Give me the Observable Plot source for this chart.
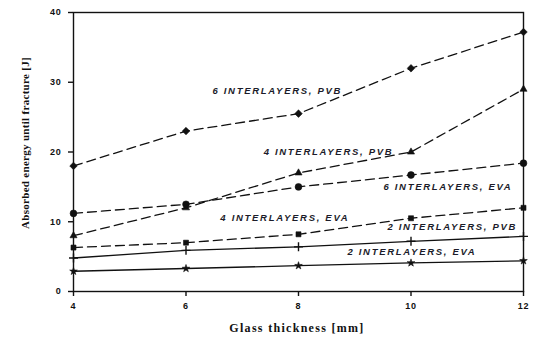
<!DOCTYPE html>
<html>
<head>
<meta charset="utf-8">
<script src="https://cdn.jsdelivr.net/npm/d3@7"></script>
<script src="https://cdn.jsdelivr.net/npm/@observablehq/plot@0.6"></script>
<style>
  html, body { margin: 0; padding: 0; background: #fff; }
  #chart svg { display: block; }
  .ticks text { font-family: "Liberation Sans", Arial, sans-serif; font-weight: bold; font-size: 9px; letter-spacing: 0.8px; }
  .axis-title { font-family: "Liberation Serif", "Times New Roman", serif; font-weight: bold; font-size: 11px; }
  .series-label { font-family: "Liberation Sans", Arial, sans-serif; font-weight: bold; font-style: italic; font-size: 9.5px; letter-spacing: 1.7px; }
</style>
</head>
<body>
<div id="chart"></div>
<script>
// Glass thickness (mm) on the x axis
const thickness = [4, 6, 8, 10, 12];

// Absorbed energy until fracture (J) for each laminate build-up
const pvb6 = [18, 23, 25.5, 32, 37.2];
const pvb4 = [8, 12, 17, 20, 29];
const eva6 = [11.2, 12.5, 15, 16.7, 18.4];
const eva4 = [6.3, 7, 8.2, 10.5, 12];
const pvb2 = [4.8, 5.9, 6.4, 7.2, 7.9];
const eva2 = [2.9, 3.3, 3.7, 4.1, 4.4];

const seriesNames = [
  "6 INTERLAYERS, PVB",
  "4 INTERLAYERS, PVB",
  "6 INTERLAYERS, EVA",
  "4 INTERLAYERS, EVA",
  "2 INTERLAYERS, PVB",
  "2 INTERLAYERS, EVA"
];
const seriesValues = [pvb6, pvb4, eva6, eva4, pvb2, eva2];
const seriesSymbols = ["diamond2", "triangle2", "circle", "square2", "plus", "star"];
const seriesDashed = [true, true, true, true, false, false];

// Where each series name is written inside the plot
const labelX = [6.47, 7.38, 9.51, 6.61, 9.58, 8.87];
const labelY = [28.8, 20.0, 15.0, 10.5, 9.2, 5.7];

const xTicks = [4, 6, 8, 10, 12];
const yTicks = [0, 10, 20, 30, 40];

const rows = [];
seriesNames.forEach((name, i) => {
  thickness.forEach((t, j) => rows.push({
    series: name, t, e: seriesValues[i][j],
    symbol: seriesSymbols[i], dashed: seriesDashed[i]
  }));
});
const labels = seriesNames.map((name, i) => ({ name, x: labelX[i], y: labelY[i] }));

const marks = [
  Plot.frame({ stroke: "#111", strokeWidth: 1.4 }),
  Plot.axisX({ ticks: xTicks, tickSize: 5, tickPadding: 6, tickFormat: d => String(d), label: null, strokeWidth: 1.4 }),
  Plot.axisY({ ticks: yTicks, tickSize: 5, tickPadding: 7, tickFormat: d => String(d), label: null, strokeWidth: 1.4 })
];

for (const dashed of [true, false]) {
  marks.push(Plot.line(rows.filter(d => d.dashed === dashed), {
    x: "t", y: "e", z: "series", stroke: "#111", strokeWidth: 1.3,
    strokeDasharray: dashed ? "9,5" : null
  }));
}
const symbolSize = { diamond2: 3.4, triangle2: 3.4, circle: 3.4, square2: 3.2, plus: 3, star: 2.4 };
for (const sym of seriesSymbols) {
  const open = sym === "plus";
  marks.push(Plot.dot(rows.filter(d => d.symbol === sym), {
    x: "t", y: "e", symbol: () => sym, r: symbolSize[sym],
    fill: open ? "none" : "#111", stroke: "#111", strokeWidth: open ? 1.4 : 0.6
  }));
}
marks.push(Plot.text(labels, {
  x: "x", y: "y", text: "name", textAnchor: "start", fill: "#1c1c2a", className: "series-label"
}));

const plot = Plot.plot({
  width: 544,
  height: 337,
  marginLeft: 73,
  marginRight: 21,
  marginTop: 12,
  marginBottom: 46,
  style: { background: "#fff", color: "#111" },
  x: { domain: [4, 12] },
  y: { domain: [0, 40] },
  symbol: { type: "identity" },
  marks
});

// tag tick label groups for styling
plot.querySelectorAll("g[aria-label='x-axis tick label'], g[aria-label='y-axis tick label']")
  .forEach(g => g.classList.add("ticks"));

// axis titles
const ns = "http://www.w3.org/2000/svg";
const xt = document.createElementNS(ns, "text");
xt.setAttribute("x", 297); xt.setAttribute("y", 332);
xt.setAttribute("text-anchor", "middle");
xt.setAttribute("class", "axis-title");
xt.setAttribute("fill", "#111");
xt.setAttribute("style", "font-size:12px;letter-spacing:1.3px");
xt.textContent = "Glass thickness [mm]";
plot.appendChild(xt);

const yt = document.createElementNS(ns, "text");
yt.setAttribute("transform", "translate(29,143) rotate(-90)");
yt.setAttribute("text-anchor", "middle");
yt.setAttribute("class", "axis-title");
yt.setAttribute("fill", "#111");
yt.setAttribute("style", "letter-spacing:0.3px");
yt.textContent = "Absorbed energy until fracture [J]";
plot.appendChild(yt);

document.getElementById("chart").appendChild(plot);
</script>
</body>
</html>
